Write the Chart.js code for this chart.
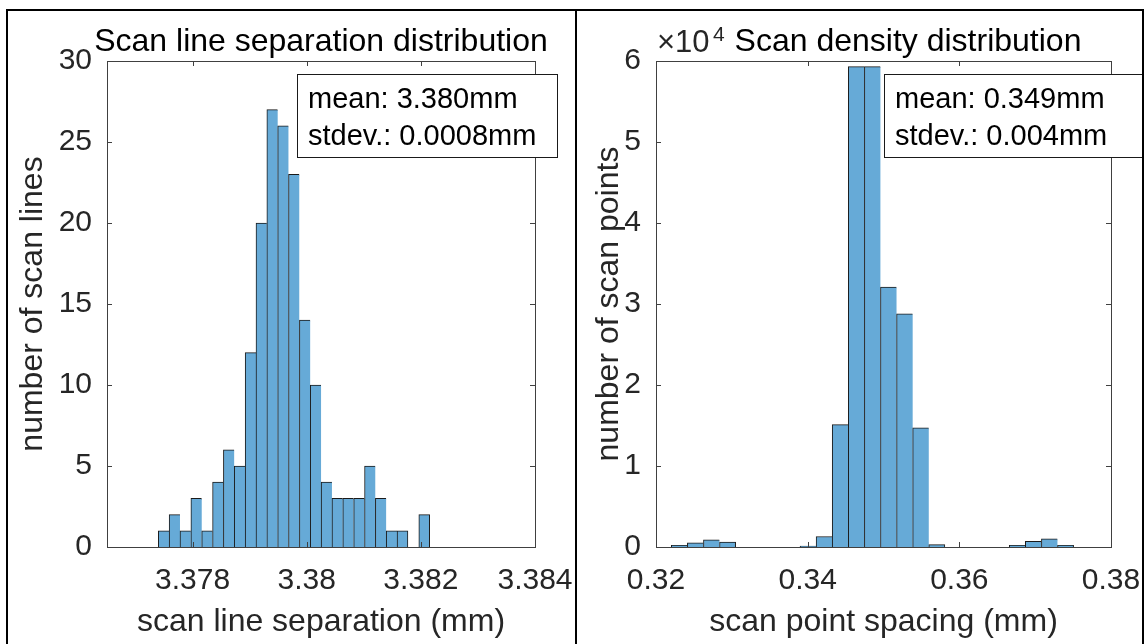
<!DOCTYPE html>
<html>
<head>
<meta charset="utf-8">
<script src="https://cdn.jsdelivr.net/npm/chart.js@4.4.0/dist/chart.umd.min.js"></script>
<style>
  html, body { margin: 0; padding: 0; background: #fff; }
  #wrap { position: relative; width: 1148px; height: 644px; overflow: hidden; }
  .panel { position: absolute; top: 0; height: 644px; }
  #left { left: 0; width: 576px; }
  #right { left: 576px; width: 572px; }
  .frame { position: absolute; background: #000; }
</style>
</head>
<body>
<div id="wrap">
  <div class="panel" id="left"><canvas id="lineChart"></canvas></div>
  <div class="panel" id="right"><canvas id="pointChart"></canvas></div>
  <div class="frame" style="left:6px;top:9px;width:1138px;height:2px"></div>
  <div class="frame" style="left:6px;top:9px;width:2px;height:640px"></div>
  <div class="frame" style="left:575px;top:9px;width:2px;height:640px"></div>
  <div class="frame" style="left:1142px;top:9px;width:2px;height:640px"></div>
</div>
<script>
// Histograma 1: separacion entre lineas de escaneo (centros de bin en mm)
const lineBins = [3.377494, 3.377684, 3.377874, 3.378065, 3.378255, 3.378445, 3.378635,
    3.378825, 3.379016, 3.379206, 3.379396, 3.379586, 3.379776, 3.379967, 3.380157,
    3.380347, 3.380537, 3.380727, 3.380918, 3.381108, 3.381298, 3.381488, 3.381678,
    3.381869, 3.382059];
const lineCounts = [1, 2, 1, 3, 1, 4, 6, 5, 12, 20, 27, 26, 23, 14, 10, 4, 3, 3, 3, 5, 3, 1, 1, 0, 2];
const lineXTicks = [3.378, 3.380, 3.382, 3.384];
const lineYTicks = [0, 5, 10, 15, 20, 25, 30];

// Histograma 2: espaciado entre puntos (centros de bin en mm)
const pointBins = [0.323075, 0.325197, 0.327319, 0.329442, 0.331564, 0.333686, 0.335808,
    0.337931, 0.340053, 0.342175, 0.344297, 0.346420, 0.348542, 0.350664, 0.352786,
    0.354909, 0.357031, 0.359153, 0.361275, 0.363398, 0.365520, 0.367642, 0.369764,
    0.371887, 0.374009];
const pointCounts = [200, 500, 900, 600, 0, 0, 0, 0, 100, 1300, 15100, 59300, 59300, 32100,
    28800, 14700, 300, 0, 0, 0, 0, 200, 700, 1000, 200];
const pointXTicks = [0.32, 0.34, 0.36, 0.38];
const pointYTicks = [0, 10000, 20000, 30000, 40000, 50000, 60000];

const FONT = "'Liberation Sans', Arial, Helvetica, sans-serif";
const TXT = "#262626";

// Caja de ejes estilo MATLAB, marcas hacia dentro, titulo y cuadro de texto
function matlabAxes(o) {
    return {
        id: "matlabAxes",
        afterDatasetsDraw(chart) {
            const { ctx, chartArea: a, scales: { x, y } } = chart;
            ctx.save();
            ctx.strokeStyle = "#404040";
            ctx.lineWidth = 1;
            ctx.beginPath();
            x.ticks.forEach(t => {
                const px = Math.round(x.getPixelForValue(t.value)) + 0.5;
                ctx.moveTo(px, a.bottom); ctx.lineTo(px, a.bottom - 5);
                ctx.moveTo(px, a.top); ctx.lineTo(px, a.top + 5);
            });
            y.ticks.forEach(t => {
                const py = Math.round(y.getPixelForValue(t.value)) + 0.5;
                ctx.moveTo(a.left, py); ctx.lineTo(a.left + 5, py);
                ctx.moveTo(a.right, py); ctx.lineTo(a.right - 5, py);
            });
            ctx.stroke();
            ctx.strokeRect(Math.round(a.left) + 0.5, Math.round(a.top) + 0.5,
                Math.round(a.width), Math.round(a.height));
            ctx.restore();
        },
        afterDraw(chart) {
            const ctx = chart.ctx;
            ctx.save();
            // titulo
            ctx.fillStyle = "#000";
            ctx.font = "32px " + FONT;
            ctx.textBaseline = "alphabetic";
            ctx.textAlign = "center";
            ctx.fillText(o.title, o.titleX, 51);
            if (o.exponent) {
                ctx.fillStyle = TXT;
                ctx.textAlign = "left";
                ctx.font = "31px " + FONT;
                ctx.fillText("\u00d710", 81, 52);
                ctx.font = "21px " + FONT;
                ctx.fillText(o.exponent, 137, 41);
            }
            // cuadro con media y desviacion
            ctx.fillStyle = "#fff";
            ctx.fillRect(o.boxX, 74, o.boxW, 83);
            ctx.strokeStyle = "#1a1a1a";
            ctx.lineWidth = 1;
            ctx.strokeRect(o.boxX + 0.5, 74.5, o.boxW, 83);
            ctx.fillStyle = "#000";
            ctx.font = "29px " + FONT;
            ctx.textAlign = "left";
            ctx.textBaseline = "middle";
            ctx.fillText(o.stats[0], o.boxX + 11, 100);
            ctx.fillText(o.stats[1], o.boxX + 11, 137);
            ctx.restore();
        }
    };
}

function createHist(id, o) {
    const ctx = document.getElementById(id).getContext("2d");
    return new Chart(ctx, {
        type: "bar",
        data: {
            datasets: [{
                data: o.bins.map((b, i) => ({ x: b, y: o.counts[i] })),
                backgroundColor: "rgb(102,170,215)",
                borderColor: "#1a1a1a",
                borderWidth: c => ({ top: 1, left: 1, bottom: 0, right: o.counts[c.dataIndex + 1] ? 0 : 1 }),
                borderSkipped: false,
                barPercentage: 1,
                categoryPercentage: 1
            }]
        },
        options: {
            responsive: true,
            maintainAspectRatio: false,
            animation: false,
            layout: { padding: { left: 0, top: 61, right: o.padRight, bottom: 0 } },
            plugins: { legend: { display: false }, tooltip: { enabled: false } },
            scales: {
                x: {
                    type: "linear",
                    offset: false,
                    min: o.xMin,
                    max: o.xMax,
                    grid: { display: false, drawTicks: false },
                    border: { display: false },
                    afterBuildTicks: s => { s.ticks = o.xTicks.map(v => ({ value: v })); },
                    afterFit: s => { s.height = 97; s.paddingLeft = 0; s.paddingRight = 0; },
                    ticks: {
                        padding: 16, color: TXT, maxRotation: 0, autoSkip: false,
                        font: { family: FONT, size: 30, lineHeight: 1.2 },
                        callback: v => String(+v.toFixed(3))
                    },
                    title: {
                        display: true, text: o.xLabel, color: TXT,
                        font: { family: FONT, size: 32, lineHeight: 1.2 },
                        padding: { top: 0, bottom: 3 }
                    }
                },
                y: {
                    min: 0,
                    max: o.yTicks[o.yTicks.length - 1],
                    grid: { display: false, drawTicks: false },
                    border: { display: false },
                    afterBuildTicks: s => { s.ticks = o.yTicks.map(v => ({ value: v })); },
                    afterFit: s => { s.width = o.yWidth; s.paddingTop = 0; s.paddingBottom = 0; },
                    ticks: {
                        padding: 15, color: TXT,
                        font: { family: FONT, size: 30, lineHeight: 1.2 },
                        callback: v => String(v / o.yDiv)
                    },
                    title: {
                        display: true, text: o.yLabel, color: TXT,
                        font: { family: FONT, size: 32, lineHeight: 1.2 },
                        padding: { top: 14, bottom: 0 }
                    }
                }
            }
        },
        plugins: [matlabAxes(o)]
    });
}

function setupCharts() {
    createHist("lineChart", {
        bins: lineBins, counts: lineCounts, xTicks: lineXTicks, yTicks: lineYTicks,
        xMin: 3.3765, xMax: 3.384, yDiv: 1, yWidth: 107, padRight: 41,
        xLabel: "scan line separation (mm)", yLabel: "number of scan lines",
        title: "Scan line separation distribution", titleX: 321,
        boxX: 297, boxW: 260, stats: ["mean: 3.380mm", "stdev.: 0.0008mm"]
    });
    createHist("pointChart", {
        bins: pointBins, counts: pointCounts, xTicks: pointXTicks, yTicks: pointYTicks,
        xMin: 0.32, xMax: 0.38, yDiv: 10000, yWidth: 80, padRight: 37,
        xLabel: "scan point spacing (mm)", yLabel: "number of scan points",
        title: "Scan density distribution", titleX: 332, exponent: "4",
        boxX: 308, boxW: 259, stats: ["mean: 0.349mm", "stdev.: 0.004mm"]
    });
}

document.addEventListener("DOMContentLoaded", setupCharts);
</script>
</body>
</html>
